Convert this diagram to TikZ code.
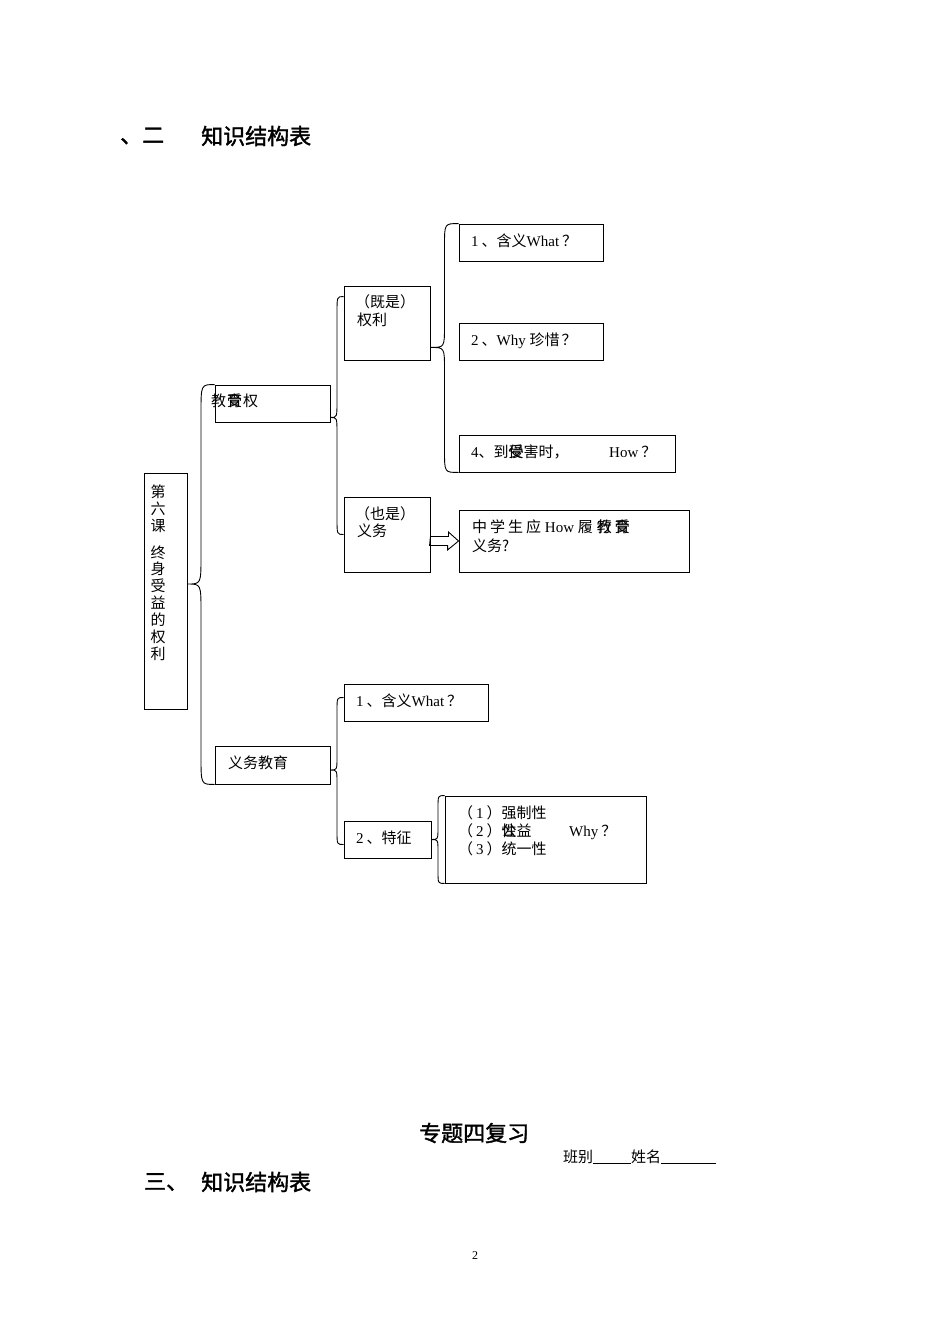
\documentclass[tikz,border=0pt]{standalone}
\usepackage{fontspec}
\setmainfont{Liberation Serif}
\newfontfamily\cjk{Noto Sans CJK SC}
\newfontfamily\cjkb{Noto Sans CJK SC}[FakeBold=1.6]
\usetikzlibrary{calc}
\newcommand\zh[1]{{\cjk #1}}
\newcommand\mybrace[4]{%
  \draw[brc] let \p1=(#1), \p2=(#2), \p3=(#3), \n1={0.5*(\x1+\x2)} in
  (\p2) .. controls ({\n1*1pt},\y2) .. ({\n1*1pt},{\y2-#4*1pt})
  -- ({\n1*1pt},{\y1+#4*1pt}) .. controls ({\n1*1pt},\y1) .. (\p1)
  .. controls ({\n1*1pt},\y1) .. ({\n1*1pt},{\y1-#4*1pt})
  -- ({\n1*1pt},{\y3+#4*1pt}) .. controls ({\n1*1pt},\y3) .. (\p3);}
\tikzset{
  box/.style={draw, line width=0.9pt, inner sep=0pt},
  brc/.style={line width=0.9pt},
  txt/.style={anchor=west, inner sep=0pt, font=\fontsize{15pt}{18pt}\selectfont, text height=13.2pt, text depth=1.8pt},
  head/.style={anchor=west, inner sep=0pt, font=\cjkb\fontsize{22pt}{26pt}\selectfont},
}
\begin{document}
\begin{tikzpicture}[x=1pt,y=-1pt]
\useasboundingbox[fill=white] (0,0) rectangle (950,1344);

% headings
\node[head] (h1a) at (120,136) {、二};
\node[head] (h1b) at (201,136) {知识结构表};
\node[head] (h2) at (419,1133) {专题四复习};
\node[head] (h3a) at (144,1182) {三、};
\node[head] (h3b) at (201,1182) {知识结构表};
\node[txt] (cls) at (563,1157) {\zh{班别}\rule[-1.5pt]{38pt}{0.8pt}\zh{姓名}\rule[-1.5pt]{55pt}{0.8pt}};
\node[inner sep=0pt, font=\fontsize{12pt}{14pt}\selectfont] (pg) at (475,1256) {2};

% boxes
\node[box, minimum width=43pt, minimum height=236pt] (lesson) at (165.5,591) {};
\node[box, minimum width=115pt, minimum height=37pt] (jy) at (272.5,403.5) {};
\node[box, minimum width=115pt, minimum height=38pt] (yj) at (272.5,765) {};
\node[box, minimum width=86pt, minimum height=74pt] (ql) at (387,323) {};
\node[box, minimum width=86pt, minimum height=75pt] (yw) at (387,534.5) {};
\node[box, minimum width=144pt, minimum height=37pt] (b1) at (531,242.5) {};
\node[box, minimum width=144pt, minimum height=37pt] (b2) at (531,341.5) {};
\node[box, minimum width=216pt, minimum height=37pt] (b4) at (567,453.5) {};
\node[box, minimum width=230pt, minimum height=62pt] (zx) at (574,541) {};
\node[box, minimum width=144pt, minimum height=37pt] (c1) at (416,702.5) {};
\node[box, minimum width=87pt, minimum height=37pt] (c2) at (387.5,839.5) {};
\node[box, minimum width=201pt, minimum height=87pt] (tz) at (545.5,839.5) {};

% texts
\node[inner sep=0pt, anchor=north, align=center, font=\cjk\fontsize{15pt}{16.9pt}\selectfont] (lessontxt) at (158,484.5)
  {第\\六\\课\\[10pt]终\\身\\受\\益\\的\\权\\利};
\node[txt] (jyt) at (211,401) {\zh{教\hspace{1pt}\rlap{受}育\hspace{1pt}权}};
\node[txt] (yjt) at (228,763) {\zh{义务教育}};
\node[txt] (qlt1) at (355,302) {\zh{（既是）}};
\node[txt] (qlt2) at (357,320) {\zh{权利}};
\node[txt] (ywt1) at (355,514) {\zh{（也是）}};
\node[txt] (ywt2) at (357,531) {\zh{义务}};
\node[txt] (b1t) at (471,241) {1\hspace{3pt}\zh{、含义}What\hspace{3pt}\zh{？}};
\node[txt] (b2t) at (471,340) {2\hspace{3pt}\zh{、}Why \zh{珍惜}\hspace{2pt}\zh{？}};
\node[txt] (b4t) at (471,452) {4\zh{、到\rlap{受}侵害时，}};
\node[txt] (b4t2) at (609,452) {How\hspace{3pt}\zh{？}};
\node[txt] (zxt1) at (472,527) {\zh{中\hspace{3pt}学\hspace{3pt}生\hspace{3pt}应} How \zh{履\hspace{4pt}\rlap{行}教\hspace{3pt}\rlap{受}育}};
\node[txt] (zxt2) at (472,546) {\zh{义务?}};
\node[txt] (c1t) at (356,701) {1\hspace{3pt}\zh{、含义}What\hspace{3pt}\zh{？}};
\node[txt] (c2t) at (356,838) {2\hspace{3pt}\zh{、特征}};
\node[txt] (tz1) at (458,813) {\zh{（}\hspace{3pt}1\hspace{3pt}\zh{）强制性}};
\node[txt] (tz2) at (458,831) {\zh{（}\hspace{3pt}2\hspace{3pt}\zh{）\rlap{性}公益}};
\node[txt] (tz2b) at (569,831) {Why\hspace{3pt}\zh{？}};
\node[txt] (tz3) at (458,849) {\zh{（}\hspace{3pt}3\hspace{3pt}\zh{）统一性}};

% braces
\mybrace{[yshift=7pt]lesson.east}{jy.north west}{yj.south west}{28}
\mybrace{[yshift=5pt]jy.south east}{[yshift=-11pt]ql.north west}{yw.west}{16}
\mybrace{[yshift=13pt]ql.south east}{b1.north west}{b4.south west}{22}
\mybrace{[yshift=-5pt]yj.east}{[yshift=5pt]c1.west}{[yshift=-5pt]c2.west}{13}
\mybrace{c2.east}{tz.north west}{tz.south west}{12}

% hollow arrow
\draw[line width=0.9pt] (yw.east |- zx.west) ++(0,-4.5) -- ++(18,0) -- ++(0,-4.5)
  -- (zx.west) -- ++(-11,9) -- ++(0,-4.5) -- ++(-18,0) -- cycle;
\end{tikzpicture}
\end{document}
